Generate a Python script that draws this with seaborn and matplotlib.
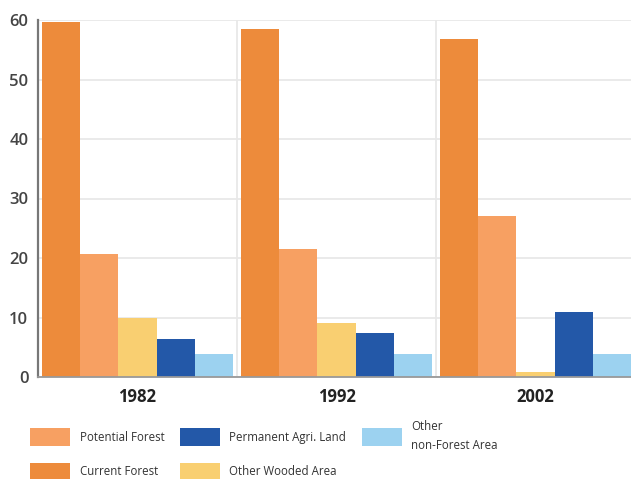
import matplotlib
matplotlib.use("Agg")
import matplotlib.pyplot as plt
from matplotlib.patches import Patch
import pandas as pd
import seaborn as sns

years = ["1982", "1992", "2002"]
categories = ["Current Forest", "Potential Forest", "Other Wooded Area",
              "Permanent Agri. Land", "Other non-Forest Area"]
current_forest = [59.7, 58.5, 56.8]
potential_forest = [20.6, 21.5, 27.1]
other_wooded = [9.9, 9.1, 0.8]
permanent_agri = [6.4, 7.4, 10.9]
other_non_forest = [3.9, 3.9, 3.9]
y_ticks = [0, 10, 20, 30, 40, 50, 60]

colors = {
    "Current Forest": "#ED8B3B",
    "Potential Forest": "#F7A062",
    "Other Wooded Area": "#F9CF71",
    "Permanent Agri. Land": "#2358A8",
    "Other non-Forest Area": "#9CD2F0",
}

series = [current_forest, potential_forest, other_wooded, permanent_agri, other_non_forest]
rows = []
for cat, vals in zip(categories, series):
    for yr, v in zip(years, vals):
        rows.append({"Year": yr, "Category": cat, "Value": v})
df = pd.DataFrame(rows)

sns.set_theme(style="white")
plt.rcParams["font.family"] = ["Open Sans", "DejaVu Sans"]

fig = plt.figure(figsize=(6.31, 4.79), dpi=100)
ax = fig.add_axes([38 / 631, 102 / 479, 597 / 631, 357 / 479])

sns.barplot(data=df, x="Year", y="Value", hue="Category", order=years,
            hue_order=categories, palette=colors, width=0.955,
            saturation=1, edgecolor="none", linewidth=0, legend=False, ax=ax)

ax.set_xlim(-0.5, 2.5)
ax.set_ylim(0, 60)
ax.set_yticks(y_ticks)
ax.set_yticklabels([str(t) for t in y_ticks], fontsize=12,
                   fontweight="semibold", color="#444444")
ax.set_xticklabels(years, fontsize=12, fontweight="bold", color="#222222")
ax.tick_params(axis="y", length=0, pad=7)
ax.tick_params(axis="x", length=0, pad=8)
ax.set_xlabel("")
ax.set_ylabel("")

ax.yaxis.grid(True, color="#e8e8e8", linewidth=1.3)
for xv in [0.5, 1.5]:
    ax.axvline(xv, color="#e8e8e8", linewidth=1.3, zorder=0)
ax.set_axisbelow(True)

for side in ["top", "right"]:
    ax.spines[side].set_visible(False)
ax.spines["left"].set_color("#777777")
ax.spines["left"].set_linewidth(1.6)
ax.spines["bottom"].set_color("#999999")
ax.spines["bottom"].set_linewidth(1.3)

legend_order = ["Potential Forest", "Current Forest", "Permanent Agri. Land",
                "Other Wooded Area", "Other non-Forest Area"]
legend_text = {"Other non-Forest Area": "Other\nnon-Forest Area"}
handles = [Patch(facecolor=colors[c], edgecolor="none") for c in legend_order]
labels = [legend_text.get(c, c) for c in legend_order]
leg = fig.legend(handles, labels, ncol=3, loc="upper left",
                 bbox_to_anchor=(30 / 631, 1 - 420 / 479), frameon=False,
                 fontsize=8.3, handlelength=3.45, handleheight=2.05,
                 handletextpad=0.85, columnspacing=1.35, labelspacing=1.4,
                 borderpad=0, borderaxespad=0, labelcolor="#333333")
for t in leg.get_texts():
    t.set_linespacing(1.6)

fig.savefig("out.png", dpi=100)
